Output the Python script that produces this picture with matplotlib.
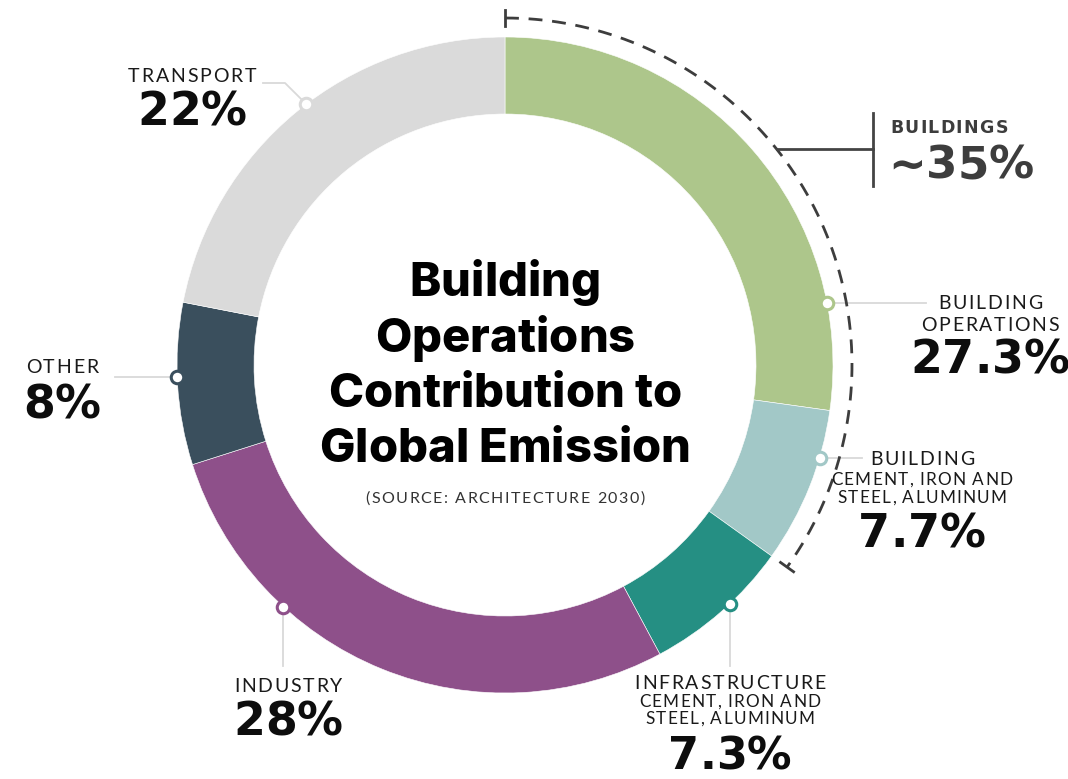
import numpy as np
import matplotlib
matplotlib.use("Agg")
import matplotlib.pyplot as plt
from matplotlib.font_manager import FontProperties

# ---------------- data ----------------
categories = ["Building Operations", "Building Materials", "Infrastructure Materials",
              "Industry", "Other", "Transport"]
values = [27.3, 7.7, 7.3, 28.0, 8.0, 22.0]
pct_labels = ["27.3%", "7.7%", "7.3%", "28%", "8%", "22%"]
head_labels = [["BUILDING", "OPERATIONS"], ["BUILDING"], ["INFRASTRUCTURE"],
               ["INDUSTRY"], ["OTHER"], ["TRANSPORT"]]
sub_labels = [[], ["CEMENT, IRON AND", "STEEL, ALUMINUM"],
              ["CEMENT, IRON AND", "STEEL, ALUMINUM"], [], [], []]
colors = ["#adc68b", "#a2c8c7", "#258f83", "#8e508a", "#3a4f5d", "#dadada"]
group_label = "BUILDINGS"
group_value = "~35%"
group_members = 2  # first two slices
title_lines = ["Building", "Operations", "Contribution to", "Global Emission"]
source = "(SOURCE: ARCHITECTURE 2030)"

# ---------------- layout ----------------
W, H = 1068, 779
fig = plt.figure(figsize=(W / 100, H / 100), dpi=100)
ax = fig.add_axes([0, 0, 1, 1])
cx, cy = 505, 365
R, RW = 328, 77

ax.pie(values, colors=colors, startangle=-90, counterclock=True, radius=R,
       center=(cx, cy), wedgeprops=dict(width=RW, edgecolor="white", linewidth=0.4))
ax.set_xlim(0, W)
ax.set_ylim(H, 0)
ax.set_aspect("equal")
ax.axis("off")

total = sum(values)
renderer = fig.canvas.get_renderer()


def pt(a, r):
    """visual angle (deg, clockwise from top) -> pixel coords"""
    t = np.deg2rad(a)
    return cx + r * np.sin(t), cy - r * np.cos(t)


def spaced(x, y, s, size, track=0.0, family=("Lato", "DejaVu Sans"), weight="normal",
           color="#1a1a1a", ha="center"):
    """draw text with letter spacing; y is the baseline (pixels)"""
    fp = FontProperties(family=list(family), weight=weight, size=size)

    def w(t):
        return renderer.get_text_width_height_descent(t, fp, ismath=False)[0]

    base = w("II")
    widths = [w("I" + c + "I") - base for c in s]
    tot = sum(widths) + track * (len(s) - 1)
    if ha == "center":
        xc = x - tot / 2
    elif ha == "right":
        xc = x - tot
    else:
        xc = x
    for c, cw in zip(s, widths):
        ax.text(xc, y, c, ha="left", va="baseline", fontproperties=fp, color=color, zorder=6)
        xc += cw + track


LINE = "#d9d9d9"
HEAD = dict(size=14, track=1.8)
SUB = dict(size=12.3, track=1.2)
BIG = dict(track=0.0, family=("DejaVu Sans",), weight="bold", color="#0d0d0d")

# dot angle (clockwise from top) and label layout per slice
dot_angle = [79.1, 106.4, 136.7, 222.5, 267.9, 322.7]
label_x = [990, 922, 730, 288, 62, 192]
head_base = [[309, 331], [465], [689], [692], [373], [82]]
sub_base = [[], [485, 503], [707, 724], [], [], []]
pct_base = [373, 547, 769, 735, 418, 125]
pct_size = [33, 33, 32, 33, 33, 33]

for i in range(len(values)):
    dx, dy = pt(dot_angle[i], R)
    if i in (0, 1):
        end = 926 if i == 0 else 862
        ax.plot([dx, end], [dy, dy], color=LINE, lw=1.3, zorder=3)
    elif i in (2, 3):
        ax.plot([dx, dx], [dy, 666], color=LINE, lw=1.3, zorder=3)
    elif i == 4:
        ax.plot([115, dx], [dy, dy], color=LINE, lw=1.3, zorder=3)
    else:
        ax.plot([263, 285, dx], [83, 83, dy], color=LINE, lw=1.3, zorder=3)
    ax.plot([dx], [dy], marker="o", ms=9, mfc="white", mec=colors[i], mew=2.2, zorder=5)
    for s, b in zip(head_labels[i], head_base[i]):
        spaced(label_x[i], b, s, **HEAD)
    for s, b in zip(sub_labels[i], sub_base[i]):
        spaced(label_x[i], b, s, **SUB)
    spaced(label_x[i], pct_base[i], pct_labels[i], size=pct_size[i], **BIG)

# dashed bracket arc around the buildings group
ra = 347
a_end = 360 * sum(values[:group_members]) / total
arc_a = np.linspace(0, a_end, 300)
ax_, ay_ = pt(arc_a, ra)
ax.plot(ax_, ay_, color="#3d3d3d", lw=2.0, ls=(0, (5, 3.5)), zorder=4)
for a in (0, a_end):
    x0, y0 = pt(a, ra - 8)
    x1, y1 = pt(a, ra + 8)
    ax.plot([x0, x1], [y0, y1], color="#3d3d3d", lw=2.0, zorder=4)
# connector to group label
ay = 149
axx = cx + np.sqrt(ra ** 2 - (cy - ay) ** 2)
ax.plot([axx, 873], [ay, ay], color="#444444", lw=2.0, zorder=4)
ax.plot([873, 873], [113, 186], color="#444444", lw=2.0, zorder=4)
spaced(890, 133, group_label, size=12.5, track=1.3, family=("DejaVu Sans",), weight="bold",
       color="#3d3d3d", ha="left")
spaced(888, 178, group_value, size=32.5, track=0.0, family=("DejaVu Sans",), weight="bold",
       color="#3d3d3d", ha="left")

# center title
for s, b in zip(title_lines, [296, 352, 407, 462]):
    spaced(cx, b, s, size=34, track=0.0, family=("Inter", "DejaVu Sans"), weight="heavy",
           color="#000000")
spaced(cx, 503, source, size=11.5, track=1.5, color="#333333")

fig.savefig("out.png", dpi=100, facecolor="white")
